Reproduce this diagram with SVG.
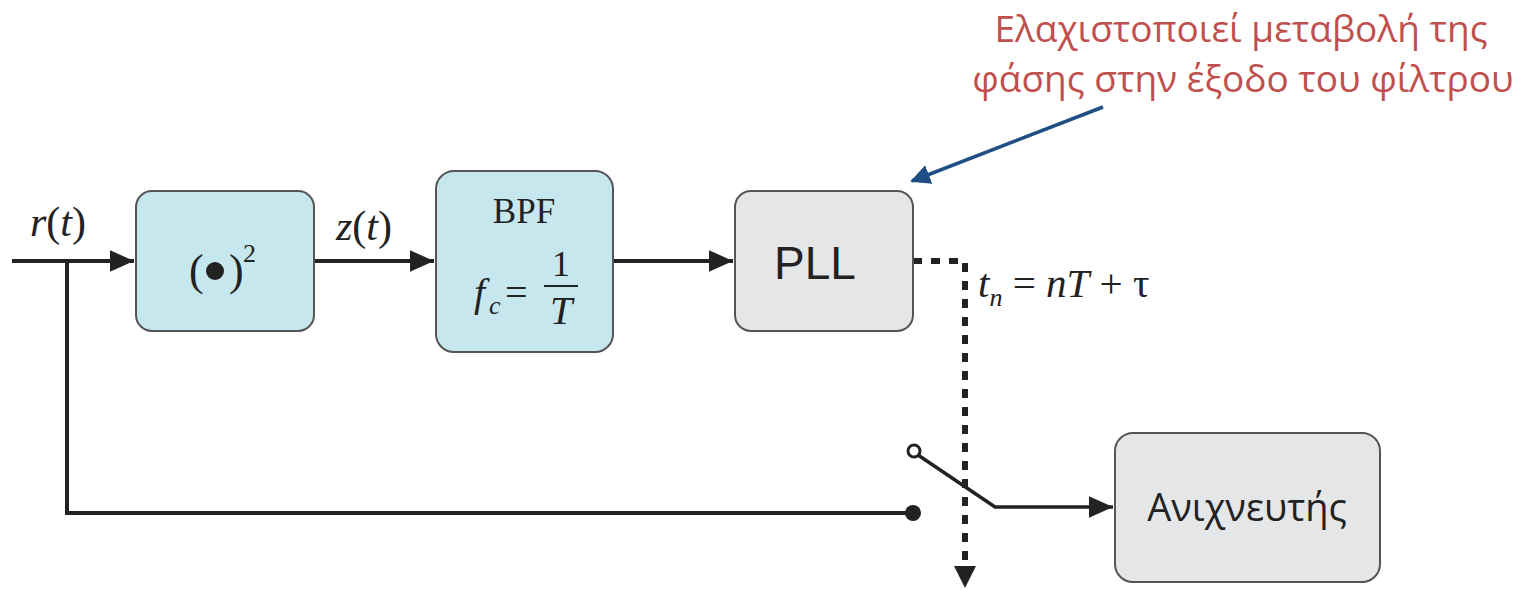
<svg xmlns="http://www.w3.org/2000/svg" width="1529" height="590" viewBox="0 0 1529 590">
<style>
.blue{fill:#c7e7ef;stroke:#555;stroke-width:2}
.gray{fill:#e5e6e8;stroke:#555;stroke-width:2}
.ln{fill:none;stroke:#222;stroke-width:4}
.dash{fill:none;stroke:#222;stroke-width:6;stroke-dasharray:9 9}
.ser{font-family:"Liberation Serif",serif;fill:#222}
.it{font-style:italic}
.sans{font-family:"Open Sans","Liberation Sans",sans-serif;fill:#222}
.red{font-family:"Open Sans","Noto Sans",sans-serif;fill:#c0504d;font-size:37px}
</style>
<defs>
<marker id="ahb" viewBox="0 0 10 10" refX="9" refY="5" markerWidth="20" markerHeight="20" orient="auto" markerUnits="userSpaceOnUse">
<path d="M0,0 L10,5 L0,10 z" fill="#1f4e85"/>
</marker>
<marker id="big" viewBox="0 0 10 10" refX="10" refY="5" markerWidth="24" markerHeight="24" orient="auto" markerUnits="userSpaceOnUse">
<path d="M0,0.5 L10,5 L0,9.5 z" fill="#222"/>
</marker>
</defs>
<rect width="1529" height="590" fill="#fff"/>
<g id="connectors">
<line class="ln" x1="12" y1="261" x2="134" y2="261" marker-end="url(#big)"/>
<line class="ln" x1="314" y1="261" x2="434" y2="261" marker-end="url(#big)"/>
<line class="ln" x1="613" y1="261" x2="733" y2="261" marker-end="url(#big)"/>
<polyline class="ln" points="67,261 67,513 912,513"/>
<circle cx="913" cy="513" r="8" fill="#222"/>
<circle cx="914" cy="451" r="6" fill="#fff" stroke="#222" stroke-width="3"/>
<polyline class="ln" points="918,455 995,507 1113,507" marker-end="url(#big)" style="stroke-width:3.5"/>
<polyline class="dash" points="913,261 965,261 965,568"/>
<path d="M954,566 L976,566 L965,588 z" fill="#222"/>
<line x1="1103" y1="107" x2="912" y2="181" stroke="#1f4e85" stroke-width="3.5" marker-end="url(#ahb)"/>
</g>
<g id="square">
<rect class="blue" x="136" y="191" width="178" height="140" rx="16"/>
<text class="ser" x="189" y="285" font-size="44">(</text>
<circle cx="215" cy="271" r="9" fill="#222"/>
<text class="ser" x="229" y="285" font-size="44">)</text>
<text class="ser" x="243" y="262" font-size="26">2</text>
</g>
<g id="bpf">
<rect class="blue" x="436" y="171" width="177" height="181" rx="18"/>
<text class="ser" x="524" y="223" font-size="35" text-anchor="middle">BPF</text>
<text class="ser it" x="474" y="306" font-size="40">f</text>
<text class="ser it" x="489" y="314" font-size="26">c</text>
<text class="ser" x="505" y="306" font-size="40">=</text>
<text class="ser" x="561" y="276" font-size="36" text-anchor="middle">1</text>
<line x1="544" y1="286" x2="578" y2="286" stroke="#222" stroke-width="2"/>
<text class="ser it" x="561" y="324" font-size="40" text-anchor="middle">T</text>
</g>
<g id="pll">
<rect class="gray" x="735" y="191" width="178" height="140" rx="16"/>
<text x="815" y="279" font-family="Liberation Sans,sans-serif" font-size="46" fill="#222" text-anchor="middle">PLL</text>
</g>
<g id="detector">
<rect class="gray" x="1115" y="433" width="265" height="149" rx="18"/>
<text class="sans" x="1247" y="521" font-size="38" text-anchor="middle">Ανιχνευτής</text>
</g>
<g id="labels">
<text class="ser it" x="30" y="236" font-size="42">r<tspan font-style="normal">(</tspan>t<tspan font-style="normal">)</tspan></text>
<text class="ser it" x="336" y="240" font-size="42">z<tspan font-style="normal">(</tspan>t<tspan font-style="normal">)</tspan></text>
<text class="ser it" x="978" y="297" font-size="41">t<tspan font-size="26" dy="9">n</tspan><tspan font-style="normal" dy="-9"> = </tspan>nT<tspan font-style="normal"> + τ</tspan></text>
<text class="red" x="1241" y="42" text-anchor="middle">Ελαχιστοποιεί μεταβολή της</text>
<text class="red" x="1243" y="92" text-anchor="middle">φάσης στην έξοδο του φίλτρου</text>
</g>
</svg>
